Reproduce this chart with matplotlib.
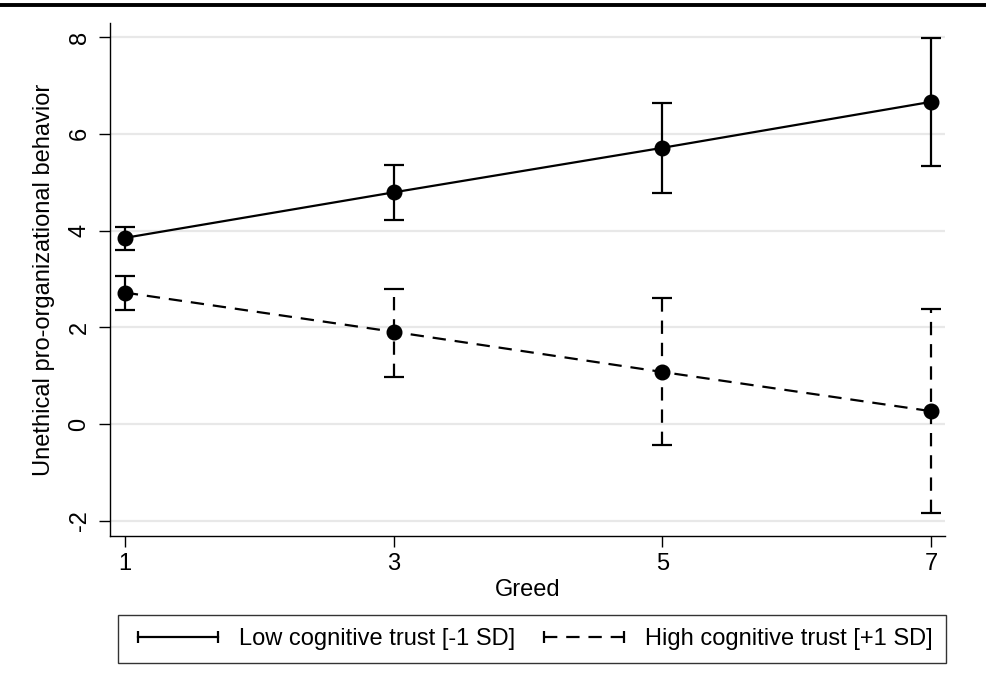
import matplotlib
matplotlib.use("Agg")
import matplotlib.pyplot as plt
from matplotlib.lines import Line2D

plt.rcParams["font.family"] = ["Liberation Sans", "DejaVu Sans"]
plt.rcParams["axes.unicode_minus"] = False

# greed levels and predicted values with CI bounds
greed = [1, 3, 5, 7]
low_mean = [3.85, 4.79, 5.71, 6.66]
low_lo = [3.60, 4.21, 4.78, 5.34]
low_hi = [4.08, 5.36, 6.63, 7.98]
high_mean = [2.72, 1.91, 1.08, 0.27]
high_lo = [2.36, 0.97, -0.42, -1.83]
high_hi = [3.06, 2.80, 2.60, 2.38]
labels = ["Low cognitive trust [-1 SD]", "High cognitive trust [+1 SD]"]
yticks = [-2, 0, 2, 4, 6, 8]

fig = plt.figure(figsize=(9.86, 6.78), dpi=100)
ax = fig.add_axes([0.1116, 0.2094, 0.8468, 0.7567])

dash = (6, 4)
fs = 17

def draw(mean, lo, hi, style):
    yerr = [[m - l for m, l in zip(mean, lo)], [h - m for m, h in zip(mean, hi)]]
    line, caps, bars = ax.errorbar(greed, mean, yerr=yerr, color="black", lw=1.6,
                                   marker="o", ms=10.5, capsize=7, capthick=1.6,
                                   elinewidth=1.6, zorder=3)
    if style == "dashed":
        line.set_dashes(dash)
        for b in bars:
            b.set_linestyle((0, dash))

draw(low_mean, low_lo, low_hi, "solid")
draw(high_mean, high_lo, high_hi, "dashed")

ax.set_xlim(0.89, 7.105)
ax.set_ylim(-2.31, 8.29)
ax.set_xticks(greed)
ax.set_yticks(yticks)
ax.grid(axis="y", color="#e8e8e8", lw=1.6, zorder=0)
ax.set_axisbelow(True)
for s in ["top", "right"]:
    ax.spines[s].set_visible(False)
for s in ["left", "bottom"]:
    ax.spines[s].set_linewidth(1.0)
ax.tick_params(length=8, width=1.0, labelsize=fs, pad=4)
ax.tick_params(axis="y", labelrotation=90, pad=6)
for t in ax.get_yticklabels():
    t.set_va("center")
ax.set_xlabel("Greed", fontsize=fs, labelpad=3)
ax.set_ylabel("Unethical pro-organizational behavior", fontsize=fs, labelpad=10)

# legend with capped line handles
h1 = Line2D([], [], color="black", lw=1.6, marker="|", ms=9, mew=1.6)
h2 = Line2D([], [], color="black", lw=1.6, ls=(0, dash), marker="|", ms=9, mew=1.6)
leg = fig.legend([h1, h2], labels, loc="center", bbox_to_anchor=(0.5395, 0.0575),
                 ncol=2, numpoints=2, handlelength=4.0, fontsize=fs, frameon=True,
                 fancybox=False, edgecolor="black", borderpad=0.55, columnspacing=0.9,
                 handletextpad=0.6, borderaxespad=0)
leg.get_frame().set_linewidth(1.0)

# top rule
fig.add_artist(Line2D([0, 1], [0.9926, 0.9926], transform=fig.transFigure,
                      color="black", lw=2.8))

fig.savefig("out.png", dpi=100)
